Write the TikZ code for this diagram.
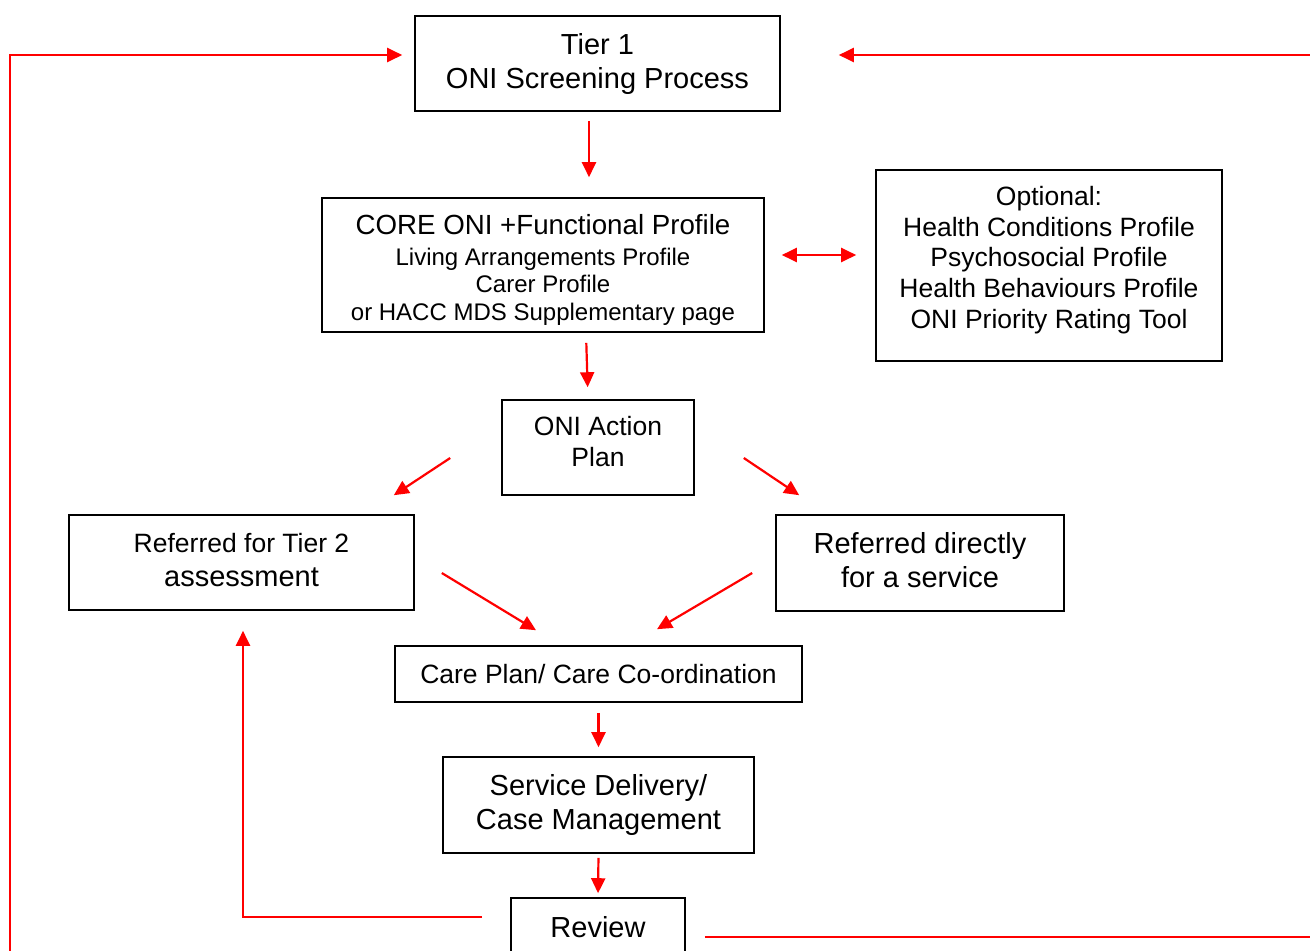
\documentclass[tikz,border=0pt]{standalone}
\usepackage{fontspec}
\setmainfont{Liberation Sans}
\usetikzlibrary{arrows.meta}

\tikzset{
  >={Triangle[length=15pt,width=14pt]},
  box/.style={draw,line width=1.6pt,inner sep=0pt,align=center,font=\fontsize{29}{34}\selectfont},
  midbox/.style={box,font=\fontsize{26.5}{30.7}\selectfont},
  arr/.style={->,red,line width=2.2pt},
}
\newcommand{\lowpad}[1]{\rule[-#1pt]{0pt}{1pt}}

\begin{document}
\begin{tikzpicture}[x=1pt,y=-1pt]
  \useasboundingbox (0,0) rectangle (1310,951);
  \clip (0,0) rectangle (1310,951);
  % boxes
  \node[box,minimum width=365,minimum height=95] (tier1) at (597.5,63.5) {Tier 1\\ONI Screening Process};
  \node[box,minimum width=442,minimum height=134,font=\fontsize{24}{27.6}\selectfont] (core) at (543,265)
    {{\fontsize{27.7}{32}\selectfont\rule{0pt}{30pt}CORE ONI +Functional Profile}\\[3pt]Living Arrangements Profile\\Carer Profile\\or HACC MDS Supplementary page};
  \node[midbox,minimum width=346,minimum height=191] (opt) at (1049,265.5)
    {Optional:\\Health Conditions Profile\\Psychosocial Profile\\Health Behaviours Profile\\ONI Priority Rating Tool\lowpad{16.6}};
  \node[midbox,minimum width=192,minimum height=95] (action) at (598,447.5) {ONI Action\\Plan\lowpad{12}};
  \node[box,minimum width=345,minimum height=95] (tier2) at (241.5,562.5)
    {{\fontsize{26.5}{30.7}\selectfont Referred for Tier 2}\\assessment\lowpad{6}};
  \node[box,minimum width=288,minimum height=96] (direct) at (920,563) {Referred directly\\for a service\lowpad{6}};
  \node[midbox,minimum width=407,minimum height=56] (care) at (598.5,674) {Care Plan/ Care Co-ordination};
  \node[box,minimum width=311,minimum height=96] (service) at (598.5,805) {Service Delivery/\\Case Management};
  \node[box,minimum width=174,minimum height=58] (review) at (598,927) {Review};
  \coordinate (lside) at (10,960);
  \coordinate (rside) at (1320,0);
  % arrows
  \draw[arr,shorten <=9pt,shorten >=20pt] ([shift={(-8.5,0)}]tier1.south) -- ([shift={(-8.5,0)}]tier1.south |- core.north);
  \draw[<->,red,line width=2.2pt,shorten <=17pt,shorten >=19pt] ([shift={(0,-10)}]core.east) -- ([shift={(0,-10)}]core.east -| opt.west);
  \draw[arr,shorten <=10pt,shorten >=12pt] ([shift={(43,0)}]core.south) -- ([shift={(-10,0)}]action.north);
  \draw[arr] ([shift={(-51,10.5)}]action.west) -- ([shift={(-21,-19)}]tier2.north east);
  \draw[arr] ([shift={(49,10.5)}]action.east) -- ([shift={(24,-19)}]direct.north west);
  \draw[arr] ([shift={(27,10.5)}]tier2.east) -- ([shift={(-62.5,-15)}]care.north);
  \draw[arr] ([shift={(-23,10)}]direct.west) -- ([shift={(58.5,-16)}]care.north);
  \draw[arr,shorten <=10pt,shorten >=9pt] (care.south) -- (service.north);
  \draw[arr,shorten <=4pt,shorten >=4pt] (service.south) -- (review.north);
  \draw[arr] ([shift={(-28,-10)}]review.west) -| ([shift={(1.5,20)}]tier2.south);
  \draw[arr] (lside) |- ([shift={(-12,-8.5)}]tier1.west);
  \draw[arr] ([shift={(19,10)}]review.east) -- ([shift={(19,10)}]review.east -| rside) |- ([shift={(58,-8.5)}]tier1.east);
\end{tikzpicture}
\end{document}
